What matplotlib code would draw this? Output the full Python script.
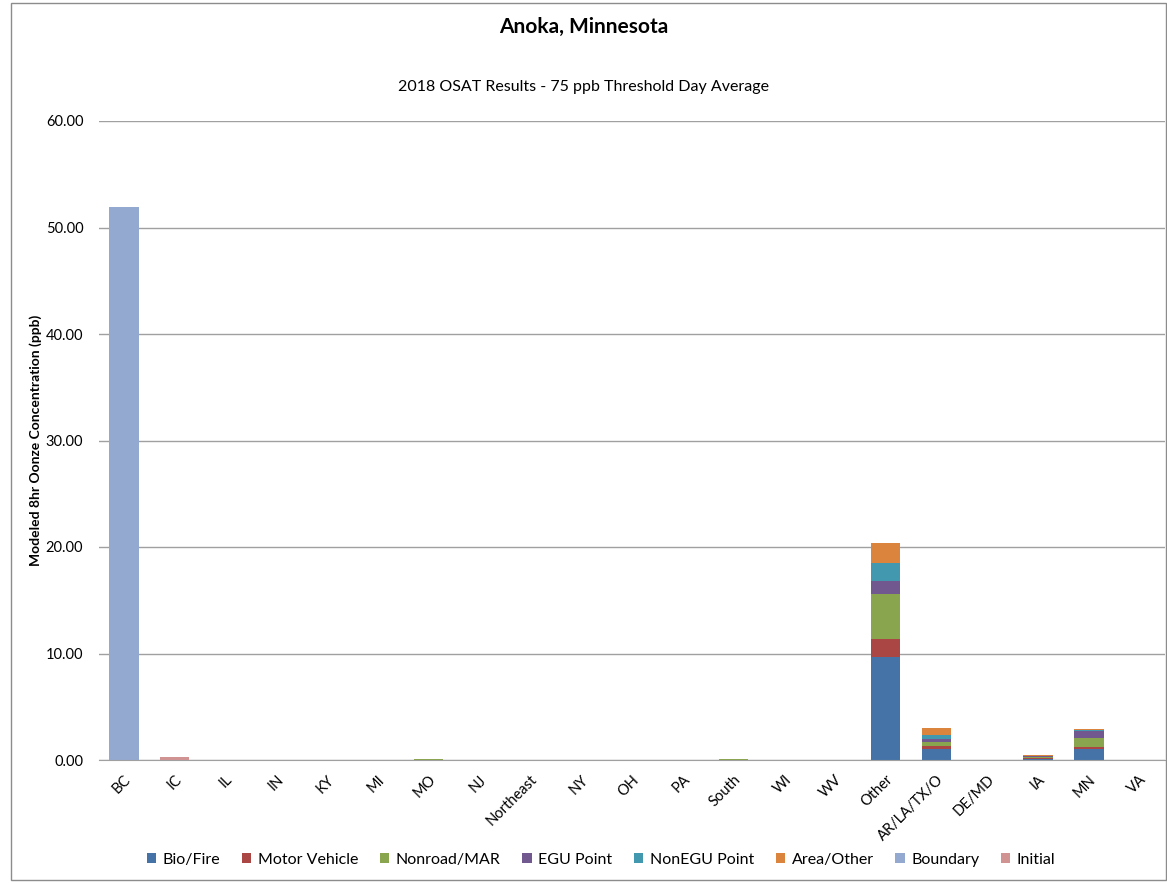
import numpy as np
import matplotlib.pyplot as plt
from matplotlib.patches import Rectangle

plt.rcParams['font.family'] = ['Lato', 'DejaVu Sans']

# Categories (source regions)
regions = ["BC", "IC", "IL", "IN", "KY", "MI", "MO", "NJ", "Northeast", "NY", "OH",
           "PA", "South", "WI", "WV", "Other", "AR/LA/TX/O", "DE/MD", "IA", "MN", "VA"]

# Contributions (ppb)
bio_fire   = [0, 0, 0, 0, 0, 0, 0.02, 0, 0, 0, 0, 0, 0.02, 0, 0, 9.64, 1.03, 0, 0.12, 1.00, 0]
motor_veh  = [0, 0, 0, 0, 0, 0, 0.01, 0, 0, 0, 0, 0, 0.01, 0, 0, 1.72, 0.32, 0, 0.04, 0.25, 0]
nonroad    = [0, 0, 0, 0, 0, 0, 0.02, 0, 0, 0, 0, 0, 0.02, 0, 0, 4.20, 0.31, 0, 0.15, 0.82, 0]
egu_point  = [0, 0, 0, 0, 0, 0, 0.02, 0, 0, 0, 0, 0, 0.02, 0, 0, 1.25, 0.28, 0, 0.08, 0.62, 0]
nonegu     = [0, 0, 0, 0, 0, 0, 0.01, 0, 0, 0, 0, 0, 0.01, 0, 0, 1.72, 0.41, 0, 0.03, 0.11, 0]
area_other = [0, 0, 0, 0, 0, 0, 0.01, 0, 0, 0, 0, 0, 0.01, 0, 0, 1.87, 0.62, 0, 0.05, 0.11, 0]
boundary   = [51.9, 0, 0, 0, 0, 0, 0, 0, 0, 0, 0, 0, 0, 0, 0, 0, 0, 0, 0, 0, 0]
initial    = [0, 0.30, 0, 0, 0, 0, 0, 0, 0, 0, 0, 0, 0, 0, 0, 0, 0, 0, 0, 0, 0]

series = [
    ("Bio/Fire", bio_fire, "#4572A7"),
    ("Motor Vehicle", motor_veh, "#AA4643"),
    ("Nonroad/MAR", nonroad, "#89A54E"),
    ("EGU Point", egu_point, "#71588F"),
    ("NonEGU Point", nonegu, "#4198AF"),
    ("Area/Other", area_other, "#DB843D"),
    ("Boundary", boundary, "#93A9CF"),
    ("Initial", initial, "#D19392"),
]

fig = plt.figure(figsize=(11.67, 8.83), dpi=100)
ax = fig.add_axes([98.6 / 1167, 1 - 760 / 883, (1165 - 98.6) / 1167, (760 - 121) / 883])

x = np.arange(len(regions))
bottom = np.zeros(len(regions))
for name, vals, col in series:
    vals = np.array(vals)
    ax.bar(x, vals, width=0.58, bottom=bottom, color=col, label=name, linewidth=0)
    bottom += vals

ax.set_xlim(-0.5, len(regions) - 0.5)
ax.set_ylim(0, 60)
ax.set_yticks(np.arange(0, 61, 10))
ax.set_yticklabels([f"{v:.2f}" for v in np.arange(0, 61, 10)], fontsize=10.5)
ax.yaxis.grid(True, color="#a0a0a0", linewidth=1)
ax.set_axisbelow(True)
ax.tick_params(axis="both", length=0)
ax.tick_params(axis="y", pad=11)
ax.tick_params(axis="x", pad=9)
ax.set_xticks(x)
ax.set_xticklabels(regions, rotation=45, ha="right", rotation_mode="anchor", fontsize=10.5)
for s in ["top", "right", "left"]:
    ax.spines[s].set_visible(False)
ax.spines["bottom"].set_color("#a0a0a0")

ax.set_ylabel("Modeled 8hr Oonze Concentration (ppb)", fontsize=10, fontweight="bold", labelpad=3)

fig.text(0.5, 1 - 27 / 883, "Anoka, Minnesota", ha="center", va="center",
         fontsize=15, fontweight="bold")
fig.text(0.5, 1 - 87 / 883, "2018 OSAT Results - 75 ppb Threshold Day Average",
         ha="center", va="center", fontsize=11.5)

fig.legend(loc="center", bbox_to_anchor=(0.515, 1 - 860 / 883), ncol=8, frameon=False,
           fontsize=11.5, handlelength=0.6, handleheight=0.6, handletextpad=0.4,
           columnspacing=1.35)

fig.patches.append(Rectangle((11 / 1167, 3 / 883), 1 - 11 / 1167 - 0.001, 1 - 6 / 883,
                             transform=fig.transFigure, fill=False,
                             edgecolor="#8c8c8c", linewidth=1))

fig.savefig("out.png", dpi=100)
